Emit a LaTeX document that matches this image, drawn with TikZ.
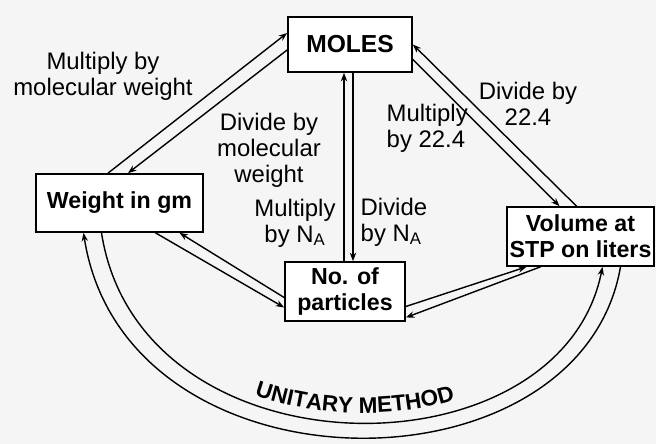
\documentclass[tikz,border=0pt]{standalone}
\usepackage{fontspec}
\setmainfont{Liberation Sans}
\usetikzlibrary{calc,arrows.meta,decorations.text}

\begin{document}
\begin{tikzpicture}[x=0.025cm,y=-0.025cm,line width=1pt,>={Stealth[length=6pt,width=4.5pt]},
  box/.style={draw,line width=1.2pt,fill=white,font=\fontsize{16.5}{18.5}\selectfont\bfseries,align=center,inner sep=0pt},
  lbl/.style={font=\fontsize{17}{18.5}\selectfont,align=center,inner sep=0pt}]
\path[use as bounding box,fill=black!4](0,0)rectangle(656,444);
\node[box,minimum width=3.1cm,minimum height=1.375cm,font=\fontsize{17.5}{18.5}\selectfont\bfseries](moles)at(350,44.5){MOLES};
\node[box,minimum width=4.175cm,minimum height=1.45cm](weight)at(119.5,203){Weight in gm};
\node[box,minimum width=3cm,minimum height=1.475cm](part)at(345,291.5){No. of\\particles};
\node[box,minimum width=3.675cm,minimum height=1.475cm](vol)at(580.5,236.5){Volume at\\STP on liters};
\draw[->]($(weight.north)+(-11.5,0)$)--($(moles.west)+(0,-11.5)$);
\draw[->]($(moles.west)+(0,5.5)$)--($(weight.north)+(8.5,0)$);
\draw[->]($(part.north)+(-1,0)$)--($(moles.south)+(-6,0)$);
\draw[->]($(moles.south)+(3,0)$)--($(part.north)+(8,0)$);
\draw[->]($(vol.north)+(-4,0)$)--(moles.east);
\draw[->]($(moles.east)+(0,15)$)--($(vol.north)+(-21,0)$);
\draw[->]($(part.west)+(0,6)$)--($(weight.south)+(60,0)$);
\draw[->]($(weight.south)+(36,0)$)--($(part.west)+(0,16)$);
\draw[->]($(part.east)+(0,15)$)--($(vol.south)+(-54,0)$);
\draw[->]($(vol.south)+(-40,0)$)--($(part.east)+(0,26)$);
\draw[->]($(vol.south)+(40,0)$)..controls(580,500)and(125,500)..($(weight.south)+(-36,0)$);
\draw[->]($(weight.south)+(-18,0)$)..controls(140,480)and(560,480)..($(vol.south)+(22,0)$);
\path[decorate,decoration={text along path,text align={left,left indent=172pt},
  text={|\fontsize{16}{16}\selectfont\bfseries|UNITARY METHOD}}]
  ($(weight.south)+(-18,-9)$)..controls(140,470)and(560,470)..($(vol.south)+(22,-9)$);
\node[lbl](mw)at(103,76){Multiply by\\molecular weight};
\node[lbl](dmw)at(269,150){Divide by\\molecular\\weight};
\node[lbl](mna)at(295,223){Multiply\\by N\textsubscript{A}};
\node[lbl,align=left,anchor=west](dna)at(360,222){Divide\\by N\textsubscript{A}};
\node[lbl,align=left,anchor=west](m22)at(386,128){Multiply\\by 22.4};
\node[lbl](d22)at(528,104){Divide by\\22.4};
\end{tikzpicture}
\end{document}
